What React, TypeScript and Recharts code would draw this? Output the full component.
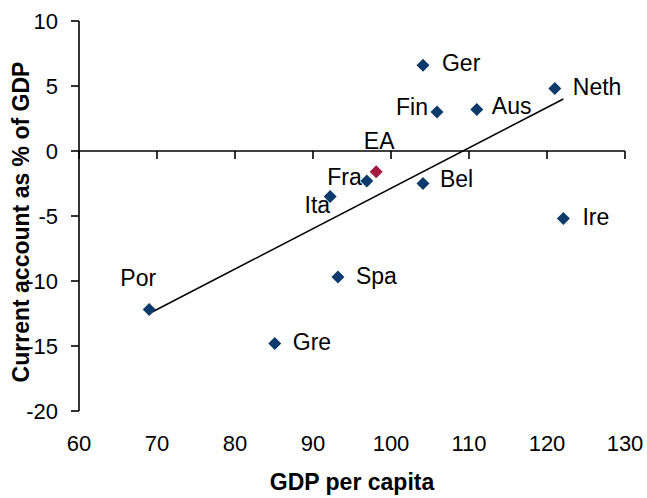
import { ScatterChart, Scatter, XAxis, YAxis, ReferenceLine, Label } from "recharts";

const FONT = '"Liberation Sans", Arial, sans-serif';

// euro area members: GDP per capita (EA = 100) vs current account (% of GDP)
const countries = ["Ger", "Fin", "Aus", "Neth", "Bel", "Ire", "Fra", "Ita", "Spa", "Por", "Gre"];
const gdpPerCapita = [104.1, 105.9, 111.0, 121.0, 104.1, 122.1, 96.9, 92.2, 93.2, 69.0, 85.1];
const currentAccount = [6.6, 3.0, 3.2, 4.8, -2.5, -5.2, -2.3, -3.5, -9.7, -12.2, -14.8];

const eaNames = ["EA"];
const eaGdp = [98.1];
const eaCurrentAccount = [-1.6];

// fitted trend line end points
const trendGdp = [69.0, 122.1];
const trendCurrentAccount = [-12.5, 4.0];

const xTicks = [60, 70, 80, 90, 100, 110, 120, 130];
const yTicks = [-20, -15, -10, -5, 0, 5, 10];

const countryData = countries.map((name, i) => ({ name, x: gdpPerCapita[i], y: currentAccount[i] }));
const eaData = eaNames.map((name, i) => ({ name, x: eaGdp[i], y: eaCurrentAccount[i] }));
const trendData = trendGdp.map((x, i) => ({ x, y: trendCurrentAccount[i] }));

// where each label sits relative to its marker
const placement: Record<string, { anchor: "start" | "middle" | "end"; dx: number; dy: number }> = {
  Ger: { anchor: "start", dx: 19, dy: -2 },
  Fin: { anchor: "end", dx: -9, dy: -5 },
  Aus: { anchor: "start", dx: 15, dy: -3 },
  Neth: { anchor: "start", dx: 18, dy: -2 },
  Bel: { anchor: "start", dx: 17, dy: -5 },
  Ire: { anchor: "start", dx: 19, dy: -2 },
  Fra: { anchor: "end", dx: -5, dy: -4 },
  Ita: { anchor: "end", dx: 0, dy: 8 },
  Spa: { anchor: "start", dx: 18, dy: -1 },
  Por: { anchor: "middle", dx: -11, dy: -32 },
  Gre: { anchor: "start", dx: 18, dy: -1 },
  EA: { anchor: "middle", dx: 3, dy: -31 },
};

const pointShape = (color: string) => (props: any) => {
  const { cx, cy, payload } = props;
  const p = placement[payload.name];
  const r = 6.5;
  return (
    <g>
      <path d={`M${cx},${cy - r}L${cx + r},${cy}L${cx},${cy + r}L${cx - r},${cy}Z`} fill={color} />
      <text
        x={cx + p.dx}
        y={cy + p.dy}
        textAnchor={p.anchor}
        dominantBaseline="central"
        fontSize={23}
        fontFamily={FONT}
        fill="#000"
      >
        {payload.name}
      </text>
    </g>
  );
};

// horizontal axis crosses at zero, ticks hang below it
const zeroAxis = (props: any) => {
  const { x1, x2, y1 } = props;
  const step = (x2 - x1) / (xTicks.length - 1);
  return (
    <g>
      <line x1={x1} x2={x2} y1={y1} y2={y1} stroke="#000" strokeWidth={1.6} />
      {xTicks.map((t, i) => (
        <line key={t} x1={x1 + i * step} x2={x1 + i * step} y1={y1} y2={y1 + 8} stroke="#000" strokeWidth={1.6} />
      ))}
    </g>
  );
};

const yTitle = (props: any) => {
  const { viewBox } = props;
  const x = viewBox.x + 21;
  const y = viewBox.y + viewBox.height / 2 + 6;
  return (
    <text
      x={x}
      y={y}
      transform={`rotate(-90, ${x}, ${y})`}
      textAnchor="middle"
      dominantBaseline="central"
      fontSize={23}
      fontWeight="bold"
      fontFamily={FONT}
      fill="#000"
    >
      Current account as % of GDP
    </text>
  );
};

export default function App() {
  return (
    <div style={{ position: "absolute", left: 0, top: 0, background: "#fff" }}>
      <ScatterChart width={647} height={498} margin={{ top: 21, right: 22, bottom: 0, left: 0 }}>
        <XAxis
          type="number"
          dataKey="x"
          domain={[60, 130]}
          ticks={xTicks}
          axisLine={false}
          tickLine={false}
          tickSize={8}
          tickMargin={16}
          height={87}
          tick={{ fontSize: 22, fontFamily: FONT, fill: "#000" }}
        >
          <Label
            value="GDP per capita"
            position="insideBottom"
            offset={8}
            style={{ fontSize: 23, fontWeight: "bold", fontFamily: FONT, fill: "#000" }}
          />
        </XAxis>
        <YAxis
          type="number"
          dataKey="y"
          domain={[-20, 10]}
          ticks={yTicks}
          width={79}
          axisLine={{ stroke: "#000", strokeWidth: 1.6 }}
          tickLine={{ stroke: "#000", strokeWidth: 1.6 }}
          tickSize={8}
          tickMargin={13}
          tick={{ fontSize: 22, fontFamily: FONT, fill: "#000" }}
        >
          <Label content={yTitle} />
        </YAxis>
        <ReferenceLine y={0} shape={zeroAxis} />
        <Scatter
          data={trendData}
          line={{ stroke: "#000", strokeWidth: 1.5 }}
          shape={() => <g />}
          isAnimationActive={false}
        />
        <Scatter data={countryData} shape={pointShape("#0b3a6b")} isAnimationActive={false} />
        <Scatter data={eaData} shape={pointShape("#a3193e")} isAnimationActive={false} />
      </ScatterChart>
    </div>
  );
}
